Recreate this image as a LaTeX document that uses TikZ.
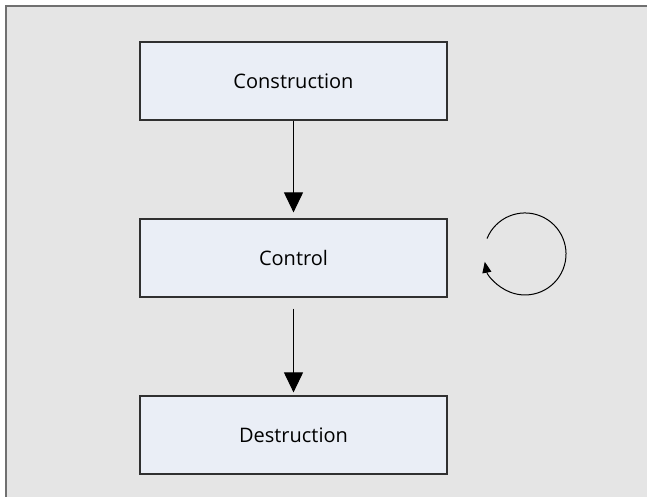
\documentclass[tikz,border=0pt]{standalone}
\usepackage{fontspec}
\setmainfont{Open Sans}
\usetikzlibrary{arrows.meta}

\definecolor{framegray}{HTML}{707070}
\definecolor{backgray}{HTML}{E5E5E5}
\definecolor{boxblue}{HTML}{EAEEF6}
\definecolor{boxline}{HTML}{303030}

\begin{document}
\begin{tikzpicture}[
    x=1pt, y=-1pt,
    phase/.style={draw=boxline, line width=1.2pt, fill=boxblue, minimum width=307pt,
        minimum height=78pt, inner sep=0pt, font=\fontsize{20}{24}\selectfont, text=black},
    flow/.style={-{Triangle[length=20pt,width=19pt]}, line width=1pt},
    cycle/.style={-{Triangle[length=11pt,width=9pt]}, line width=1pt}
]

\useasboundingbox (0,0) rectangle (647,497);
\draw[framegray, fill=backgray, line width=2pt] (6,6) rectangle (660,510);

\node[phase] (cons) at (293.5,81) {Construction};
\node[phase] (ctrl) at (293.5,258) {Control};
\node[phase] (dest) at (293.5,435) {Destruction};

\draw[flow, shorten >=6pt] (cons) -- (ctrl);
\draw[flow, shorten <=11pt, shorten >=3pt] (ctrl) -- (dest);

% loop beside Control
\coordinate (loop) at (487,238.6);
\draw[cycle] (loop) arc[start angle=-158, end angle=169, radius=41];

\end{tikzpicture}
\end{document}
